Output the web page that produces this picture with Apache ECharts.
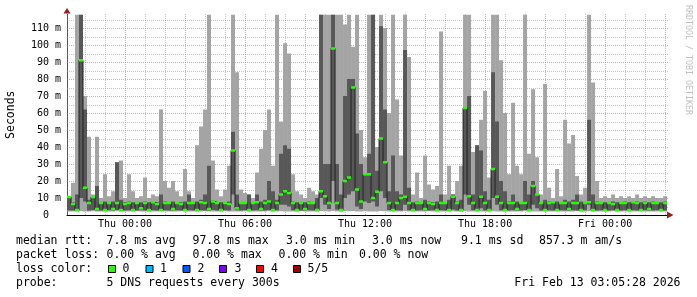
<!DOCTYPE html>
<html><head><meta charset="utf-8">
<script src="https://cdn.jsdelivr.net/npm/echarts@6/dist/echarts.min.js"></script>
<style>html,body{margin:0;padding:0;background:#fff}#c{width:697px;height:297px}</style>
</head><body><div id="c"></div>
<script>
// time in hours relative to Thu 00:00, one sample every 12 minutes
const START_HOUR = -2.9;
const STEP_HOURS = 0.2;
const END_HOUR = 27.08;

const xTickHours = [0, 6, 12, 18, 24];
const xTickLabels = ['Thu 00:00', 'Thu 06:00', 'Thu 12:00', 'Thu 18:00', 'Fri 00:00'];
const yTicks = [0, 10, 20, 30, 40, 50, 60, 70, 80, 90, 100, 110];
const yTickLabels = ['  0  ', ' 10 m', ' 20 m', ' 30 m', ' 40 m', ' 50 m', ' 60 m', ' 70 m', ' 80 m', ' 90 m', '100 m', '110 m'];
const yMajorGrid = [10, 20, 30, 40, 50, 60, 70, 80, 90, 100, 110];
const yMinorGrid = [5, 15, 25, 35, 45, 55, 65, 75, 85, 95, 105, 115];
const xMajorGridHours = [0, 3, 6, 9, 12, 15, 18, 21, 24, 27];
const xMinorGridHours = [-2, -1, 1, 2, 4, 5, 7, 8, 10, 11, 13, 14, 16, 17, 19, 20, 22, 23, 25, 26];

// median rtt (ms)
const median = [
10.6,6.5,3,91,16,7,10.6,3.5,7,3,
7,3.5,7,3,6.5,7,3,7,4,7,
3,7.5,6.5,3,7,7,3.5,7,6.5,3,
7,7,3,7.5,7,3.5,8,7,3,7,
6.5,38,4,7,7,3,7,7.5,3.5,7,
8,3,7,12,14,13,7,3,7,3.5,
7,7,3,14,11,7,98,7,3,20,
22,75,15,8,24,24,10,13.7,45,31,
7,3,7,10,10.8,7,3,7,7,3.5,
7,6.5,3,7,7,3,10.8,7,3,63,
11,7,3,10.8,7,3,27,10.8,7,3,
7,7,3.5,7,7,3,17,12,7,3,
7,7.5,3,7,7,3.5,7,7,3,7,
7.5,3,7,7,3,7,6.5,3,7,7,
3,7.5,7,3,7,3.5,7,7,3,7
];
// smallest ping (ms)
const pingMin = [
2.0,2.1,2.0,2.2,2.1,2.0,2.2,2.0,2.1,2.0,
2.1,2.0,2.2,2.0,2.1,2.1,2.0,2.2,2.0,2.1,
2.0,2.1,2.0,2.2,2.0,2.1,2.0,2.1,2.2,2.0,
2.1,2.0,2.1,2.0,2.2,2.1,2.0,2.1,2.0,2.2,
2.0,2.1,2.0,2.1,2.2,2.0,2.1,2.0,2.1,2.0,
2.2,2.0,2.1,2.2,2.1,2.0,2.1,2.0,2.2,2.0,
2.1,2.0,2.1,2.3,2.2,2.1,2.4,2.0,2.1,2.3,
2.2,2.4,2.1,2.0,2.2,2.1,2.0,2.1,2.3,2.2,
2.0,2.1,2.0,2.1,2.2,2.0,2.1,2.0,2.1,2.0,
2.2,2.0,2.1,2.0,2.1,2.0,2.2,2.0,2.1,2.3,
2.1,2.0,2.1,2.0,2.1,2.0,2.2,2.1,2.0,2.1,
2.0,2.1,2.0,2.1,2.2,2.0,2.1,2.0,2.1,2.0,
2.1,2.0,2.2,2.0,2.1,2.0,2.1,2.2,2.0,2.1,
2.2,2.0,2.1,2.0,2.1,2.0,2.2,2.0,2.1,2.0,
2.1,2.0,2.1,2.2,2.0,2.1,2.0,2.1,2.0,2.1
];
// second ping (ms)
const pingLow = [
2.7,2.6,2.8,10,8,2.7,2.9,2.6,2.7,2.6,
2.8,2.6,2.9,2.6,2.7,2.8,2.6,2.7,2.8,2.6,
2.6,2.8,2.7,2.6,2.8,2.7,2.6,2.8,2.7,2.6,
2.8,2.7,2.6,2.8,2.7,2.6,3.0,2.7,2.6,2.8,
2.7,12,2.8,2.7,2.8,2.6,2.7,2.8,2.6,2.7,
3.0,2.6,2.8,6,6,5,2.8,2.6,2.7,2.6,
2.8,2.7,2.6,10,6,3.5,20,3.2,2.6,10,
12,14,5,3.5,8,7,8,5,14,10,
3.0,2.6,2.8,2.7,6,2.8,2.6,2.7,2.8,2.6,
2.7,2.8,2.6,2.8,2.7,2.6,3.2,2.7,2.6,12,
6,2.8,2.6,4,2.7,2.6,10,6,2.8,2.6,
2.7,2.8,2.6,2.7,3,2.6,6,4,2.7,2.6,
2.8,2.7,2.6,2.8,2.7,2.6,2.8,2.7,2.6,2.8,
6,2.6,2.7,2.8,2.6,2.7,2.8,2.6,2.7,2.8,
2.6,2.8,2.7,2.6,2.8,2.6,2.7,2.8,2.6,2.7
];
// fourth ping (ms)
const pingHigh = [
11,7.5,12,118,62,9,11,17,7.5,8,
7.5,8,31,9,7.5,8,7.5,7.5,7.5,8,
7.5,8,7.5,12,8,7.5,8,7.5,7.5,8,
12,7.5,8,9,12,29,8.5,7.5,7.5,7.5,
8,49,12,7.5,7.5,12,7.5,12,8,9,
20,14,9,36,41,39,8,7.5,7.5,7.5,
8,7.5,10,118,30,30,118,30,12,70,
80,80,48,30,24,36,118,26,111,62,
14,35,14,12,97,16,7.5,8,7.5,9,
8,7.5,8,12,7.5,9,12,8,9,63,
70,12,41,38,14,9,84,55,20,14,
8,12,8,7.5,20,12,20,12,7.5,9,
8,8,8,7.5,9,8,9,12,8,7.5,
56,12,8,7.5,7.5,7.5,8,7.5,7.5,8,
7.5,7.5,8,7.5,8,7.5,8,7.5,7.5,8
];
// largest ping (ms)
const pingMax = [
11,19,118,118,70,46,12,46,10,24,
11,14,31,32,10,24,14,10,11,22,
10,12,11,62,20,16,20,14,11,27,
14,10,41,52,62,118,32,15,11,15,
29,118,84,15,13,12,10,25,39,50,
62,29,118,55,101,95,24,14,12,10,
16,14,12,118,118,118,118,118,118,112,
118,99,118,50,34,118,118,40,118,110,
60,118,68,35,118,93,12,25,10,35,
18,15,17,108,12,29,12,20,29,118,
118,37,41,56,73,22,118,118,91,60,
24,66,29,24,118,36,74,34,12,77,
16,10,27,11,56,42,47,23,12,16,
118,78,20,10,11,10,12,10,11,10,
11,10,12,10,11,10,11,10,10,11
];

const MONO = '"DejaVu Sans Mono", monospace';
const hourOf = i => START_HOUR + i * STEP_HOURS;
const smokeData = median.map((m, i) => [hourOf(i), pingMin[i], pingLow[i], pingHigh[i], pingMax[i]]);
const medianData = median.map((m, i) => [hourOf(i), m]);
medianData.push([hourOf(median.length), median[median.length - 1]]);
const greenData = median.map((m, i) => [hourOf(i), m]);

const MINOR = 'rgba(140,140,140,0.5)';
const MAJOR = 'rgba(235,80,80,0.55)';
const gridData = []
  .concat(yMinorGrid.map(v => [START_HOUR, v, 0, 0]))
  .concat(yMajorGrid.map(v => [START_HOUR, v, 0, 1]))
  .concat(xMinorGridHours.map(h => [h, 0, 1, 0]))
  .concat(xMajorGridHours.map(h => [h, 0, 1, 1]));

const chart = echarts.init(document.getElementById('c'), null, {renderer: 'canvas'});
const txt = (text, x, y, align) => ({type: 'text', x: x, y: y, silent: true,
  style: {text: text, font: '11.5px ' + MONO, fill: '#000', textVerticalAlign: 'middle', textAlign: align || 'left'}});
const box = (x, color) => ({type: 'rect', shape: {x: x + 0.5, y: 265.5, width: 7, height: 7}, style: {fill: color, stroke: '#000', lineWidth: 1}, silent: true});

chart.setOption({
  animation: false,
  backgroundColor: '#fff',
  grid: {left: 67, right: 30.3, top: 14.4, bottom: 82, containLabel: false, outerBoundsMode: 'none'},
  xAxis: {
    type: 'value', min: START_HOUR, max: END_HOUR,
    splitLine: {show: false}, axisTick: {show: false},
    axisLine: {show: true, onZero: false, lineStyle: {color: '#000', width: 1}},
    axisLabel: {customValues: xTickHours, formatter: v => xTickLabels[xTickHours.indexOf(v)] || '',
      fontFamily: MONO, fontSize: 10, color: '#000', margin: 4}
  },
  yAxis: {
    type: 'value', min: 0, max: 118,
    splitLine: {show: false}, axisTick: {show: false},
    axisLine: {show: true, onZero: false, lineStyle: {color: '#555', width: 1}},
    axisLabel: {customValues: yTicks, formatter: v => { const k = yTicks.indexOf(v); return k < 0 ? '' : yTickLabels[k]; },
      fontFamily: MONO, fontSize: 10, color: '#000', margin: 6},
    name: 'Seconds', nameLocation: 'middle', nameGap: 50, nameRotate: 90,
    nameTextStyle: {fontFamily: MONO, fontSize: 11.5, color: '#000'}
  },
  series: [
    {
      type: 'custom', z: 1, silent: true, clip: false,
      encode: {x: 0, y: 1},
      data: gridData,
      renderItem: (params, api) => {
        const vertical = api.value(2) === 1, major = api.value(3) === 1;
        let x1, y1, x2, y2;
        if (vertical) {
          const a = api.coord([api.value(0), 0]), b = api.coord([api.value(0), 118]);
          x1 = x2 = Math.round(a[0]) + 0.5; y1 = a[1]; y2 = b[1] - 1;
        } else {
          const a = api.coord([START_HOUR, api.value(1)]), b = api.coord([END_HOUR, api.value(1)]);
          y1 = y2 = Math.round(a[1]) + 0.5; x1 = a[0]; x2 = b[0] + 2;
        }
        return {type: 'line', shape: {x1: x1, y1: y1, x2: x2, y2: y2},
          style: {stroke: major ? MAJOR : MINOR, lineWidth: 1, lineDash: [1, 1]}};
      }
    },
    {
      type: 'custom', z: 2, clip: true,
      encode: {x: 0, y: [1, 2, 3, 4]},
      data: smokeData,
      renderItem: (params, api) => {
        const t = api.value(0);
        const a = api.coord([t, api.value(4)]), b = api.coord([t + STEP_HOURS, api.value(1)]);
        const c = api.coord([t, api.value(3)]), d = api.coord([t + STEP_HOURS, api.value(2)]);
        return {type: 'group', children: [
          {type: 'rect', shape: {x: a[0], y: a[1], width: b[0] - a[0], height: b[1] - a[1]}, style: {fill: '#a4a4a4'}},
          {type: 'rect', shape: {x: c[0], y: c[1], width: d[0] - c[0], height: d[1] - c[1]}, style: {fill: '#585858'}}
        ]};
      }
    },
    {
      type: 'line', z: 3, step: 'end', data: medianData, symbol: 'none', clip: true,
      lineStyle: {color: '#202020', width: 1}
    },
    {
      type: 'custom', z: 4, clip: true,
      encode: {x: 0, y: 1},
      data: greenData,
      renderItem: (params, api) => {
        const t = api.value(0);
        const a = api.coord([t, api.value(1)]), b = api.coord([t + STEP_HOURS, api.value(1)]);
        return {type: 'rect', shape: {x: a[0], y: a[1] - 1.25, width: b[0] - a[0], height: 2.5}, style: {fill: '#26ff00'}};
      }
    }
  ],
  graphic: [
    {type: 'polygon', shape: {points: [[63.5, 13.5], [70.5, 13.5], [67, 8]]}, style: {fill: '#9b1c1c'}, silent: true},
    {type: 'polygon', shape: {points: [[667, 211.5], [667, 218.5], [673.5, 215]]}, style: {fill: '#9b1c1c'}, silent: true},
    {type: 'text', x: 688.5, y: 60, rotation: -Math.PI / 2, silent: true,
      style: {text: 'RRDTOOL / TOBI OETIKER', font: '8.3px ' + MONO, fill: '#c0c0c0', textAlign: 'center', textVerticalAlign: 'middle'}},
    txt('median rtt:', 16, 241), txt('7.8 ms avg', 106.5, 241), txt('97.8 ms max', 192.5, 241),
    txt('3.0 ms min', 286, 241), txt('3.0 ms now', 372, 241), txt('9.1 ms sd', 461, 241), txt('857.3 m am/s', 539, 241),
    txt('packet loss:', 16, 255), txt('0.00 % avg', 106.5, 255), txt('0.00 % max', 192.5, 255),
    txt('0.00 % min', 278.5, 255), txt('0.00 % now', 359, 255),
    txt('loss color:', 16, 269),
    box(108, '#26ff00'), txt('0', 122.5, 269),
    box(145.5, '#00b8ff'), txt('1', 160, 269),
    box(182.5, '#0059ff'), txt('2', 197.5, 269),
    box(219, '#7e00ff'), txt('3', 234.5, 269),
    box(256, '#ff0000'), txt('4', 271, 269),
    box(293, '#a10000'), txt('5/5', 307.5, 269),
    txt('probe:', 16, 283), txt('5 DNS requests every 300s', 106.5, 283),
    txt('Fri Feb 13 03:05:28 2026', 680.5, 283, 'right')
  ]
});
</script></body></html>
